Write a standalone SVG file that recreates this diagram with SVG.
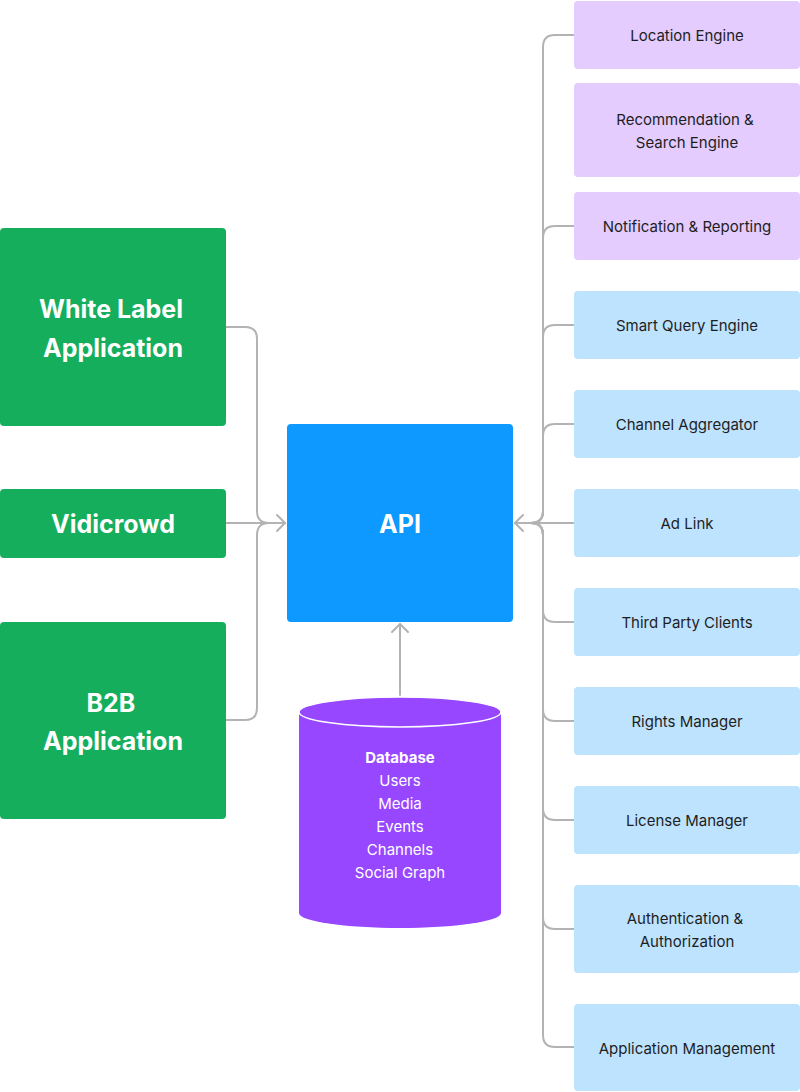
<svg xmlns="http://www.w3.org/2000/svg" width="800" height="1092" viewBox="0 0 800 1092">
<style>
.green{fill:#14AE5C}
.purple{fill:#E4CCFF}
.blue{fill:#BDE3FF}
.big{font-family:Inter,"Noto Sans","Liberation Sans",sans-serif;font-size:25px;font-weight:700;fill:#FFFFFF;text-anchor:middle;dominant-baseline:central}
.sm{font-family:Inter,"Noto Sans","Liberation Sans",sans-serif;font-size:15px;fill:#1E1E1E;text-anchor:middle;dominant-baseline:central}
.db{font-family:Inter,"Noto Sans","Liberation Sans",sans-serif;font-size:15px;fill:#FFFFFF;text-anchor:middle;dominant-baseline:central}
.c{fill:none;stroke:#B3B3B3;stroke-width:2;stroke-linecap:round;stroke-linejoin:round}
</style>
<rect width="800" height="1092" fill="#FFFFFF"/>
<g id="connectors">
<path class="c" d="M226 327 H245 Q257 327 257 339 V511 Q257 523 269 523 H285"/>
<path class="c" d="M226 523 H285"/>
<path class="c" d="M226 720 H245 Q257 720 257 708 V535 Q257 523 269 523 H285"/>
<path class="c" d="M277 515 L285 523 L277 531"/>
<path class="c" d="M574 35 H555 Q543 35 543 47 V511 Q543 523 531 523 H515"/>
<path class="c" d="M574 226 H555 Q543 226 543 238 V511 Q543 523 531 523 H515"/>
<path class="c" d="M574 325 H555 Q543 325 543 337 V511 Q543 523 531 523 H515"/>
<path class="c" d="M574 424 H555 Q543 424 543 436 V511 Q543 523 531 523 H515"/>
<path class="c" d="M574 523 H515"/>
<path class="c" d="M574 622 H555 Q543 622 543 610 V535 Q543 523 531 523 H515"/>
<path class="c" d="M574 721 H555 Q543 721 543 709 V535 Q543 523 531 523 H515"/>
<path class="c" d="M574 820 H555 Q543 820 543 808 V535 Q543 523 531 523 H515"/>
<path class="c" d="M574 929 H555 Q543 929 543 917 V535 Q543 523 531 523 H515"/>
<path class="c" d="M574 1047 H555 Q543 1047 543 1035 V535 Q543 523 531 523 H515"/>
<path class="c" d="M523 515 L515 523 L523 531"/>
<path class="c" d="M400 695 V624"/>
<path class="c" d="M392 632 L400 624 L408 632"/>
</g>
<g id="white-label">
<rect class="green" x="0" y="228" width="226" height="198" rx="4"/>
<text class="big" x="111" y="309">White Label</text>
<text class="big" x="113" y="348">Application</text>
</g>
<g id="vidicrowd">
<rect class="green" x="0" y="489" width="226" height="69" rx="4"/>
<text class="big" x="113" y="524">Vidicrowd</text>
</g>
<g id="b2b">
<rect class="green" x="0" y="622" width="226" height="197" rx="4"/>
<text class="big" x="111" y="703">B2B</text>
<text class="big" x="113" y="741">Application</text>
</g>
<g id="api">
<rect x="287" y="424" width="226" height="198" rx="4" fill="#0D99FF"/>
<text class="big" x="400" y="524">API</text>
</g>
<g id="database">
<path d="M299 712 V913 A101 15 0 0 0 501 913 V712 Z" fill="#9747FF"/>
<ellipse cx="400" cy="712" rx="101" ry="15" fill="#9747FF" stroke="#FFFFFF" stroke-width="1.5"/>
<text class="db" x="400" y="757" font-weight="700">Database</text>
<text class="db" x="400" y="780">Users</text>
<text class="db" x="400" y="803">Media</text>
<text class="db" x="400" y="826">Events</text>
<text class="db" x="400" y="849">Channels</text>
<text class="db" x="400" y="872">Social Graph</text>
</g>
<g id="location-engine">
<rect class="purple" x="574" y="1" width="226" height="68" rx="4"/>
<text class="sm" x="687" y="35">Location Engine</text>
</g>
<g id="recommendation">
<rect class="purple" x="574" y="83" width="226" height="94" rx="4"/>
<text class="sm" x="685" y="119">Recommendation &amp;</text>
<text class="sm" x="687" y="142">Search Engine</text>
</g>
<g id="notification">
<rect class="purple" x="574" y="192" width="226" height="68" rx="4"/>
<text class="sm" x="687" y="226">Notification &amp; Reporting</text>
</g>
<g id="smart-query">
<rect class="blue" x="574" y="291" width="226" height="68" rx="4"/>
<text class="sm" x="687" y="325">Smart Query Engine</text>
</g>
<g id="channel-aggregator">
<rect class="blue" x="574" y="390" width="226" height="68" rx="4"/>
<text class="sm" x="687" y="424">Channel Aggregator</text>
</g>
<g id="ad-link">
<rect class="blue" x="574" y="489" width="226" height="68" rx="4"/>
<text class="sm" x="687" y="523">Ad Link</text>
</g>
<g id="third-party">
<rect class="blue" x="574" y="588" width="226" height="68" rx="4"/>
<text class="sm" x="687" y="622">Third Party Clients</text>
</g>
<g id="rights-manager">
<rect class="blue" x="574" y="687" width="226" height="68" rx="4"/>
<text class="sm" x="687" y="721">Rights Manager</text>
</g>
<g id="license-manager">
<rect class="blue" x="574" y="786" width="226" height="68" rx="4"/>
<text class="sm" x="687" y="820">License Manager</text>
</g>
<g id="authentication">
<rect class="blue" x="574" y="885" width="226" height="88" rx="4"/>
<text class="sm" x="685" y="918">Authentication &amp;</text>
<text class="sm" x="687" y="941">Authorization</text>
</g>
<g id="application-management">
<rect class="blue" x="574" y="1004" width="226" height="87" rx="4"/>
<text class="sm" x="687" y="1048">Application Management</text>
</g>
</svg>
